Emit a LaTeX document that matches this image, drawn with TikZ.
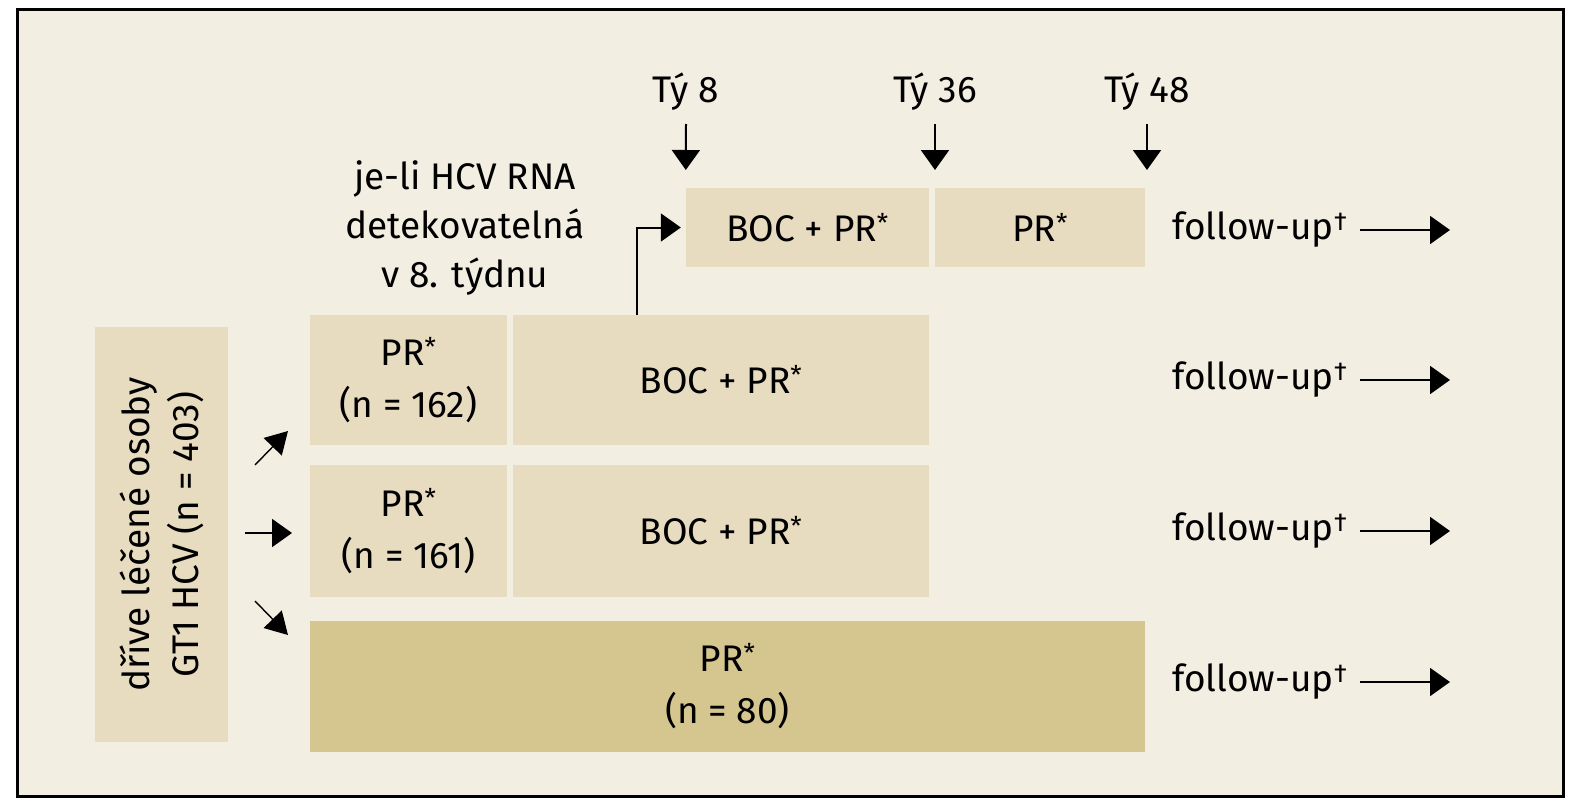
\documentclass[tikz,border=0pt]{standalone}
\usepackage{fontspec}
\setmainfont{Fira Sans}
\usetikzlibrary{arrows.meta,calc}
\definecolor{bgcream}{HTML}{F3EEE2}
\definecolor{boxtan}{HTML}{E8DCC0}
\definecolor{boxdark}{HTML}{D5C690}
\tikzset{
  box/.style={fill=boxtan, inner sep=0pt, align=center, font=\fontsize{37}{52}\selectfont},
  txt/.style={inner sep=0pt, align=center, font=\fontsize{37}{49}\selectfont},
  tip/.style={line width=2pt, -{Triangle[length=20pt, width=28pt]}},
  thintip/.style={line width=1.4pt, -{Triangle[length=22pt, width=25pt]}}
}
\begin{document}
\begin{tikzpicture}[x=1pt, y=-1pt]
  %%%%% FRAME %%%%%
  \useasboundingbox (0,0) rectangle (1580,800);
  \draw[line width=3pt, fill=bgcream] (17,10) rectangle (1563,796);

  %%%%% BOXES %%%%%
  \node[box, minimum width=133pt, minimum height=415pt] (lbox) at (161.5,534.5) {};
  \node[txt, rotate=90] at (lbox.center) {dříve léčené osoby\\GT1 HCV (n = 403)};

  \node[box, minimum width=197pt, minimum height=130pt] (pra) at (408.5,380) {PR\textsuperscript{*}\\(n = 162)};
  \node[box, minimum width=416pt, minimum height=130pt] (boca) at (721,380) {BOC + PR\textsuperscript{*}};

  \node[box, minimum width=197pt, minimum height=132pt] (prb) at (408.5,531) {PR\textsuperscript{*}\\(n = 161)};
  \node[box, minimum width=416pt, minimum height=132pt] (bocb) at (721,531) {BOC + PR\textsuperscript{*}};

  \node[box, fill=boxdark, minimum width=835pt, minimum height=131pt] (prc) at (727.5,686.5) {PR\textsuperscript{*}\\(n = 80)};

  \node[box, minimum width=243pt, minimum height=79pt] (boct) at (807.5,227.5) {BOC + PR\textsuperscript{*}};
  \node[box, minimum width=210pt, minimum height=79pt] (prt) at (1040,227.5) {PR\textsuperscript{*}};

  %%%%% LABELS %%%%%
  \node[txt] (cond) at (465,228) {je-li HCV RNA\\detekovatelná\\v 8. týdnu};
  \node[txt] (t8) at (686,92) {Tý 8};
  \node[txt] (t36) at (935,92) {Tý 36};
  \node[txt] (t48) at (1147,92) {Tý 48};

  \node[txt, anchor=west] (fut) at (1172,230) {follow-up\textsuperscript{†}};
  \node[txt, anchor=west] (fua) at (1172,380) {follow-up\textsuperscript{†}};
  \node[txt, anchor=west] (fub) at (1172,531) {follow-up\textsuperscript{†}};
  \node[txt, anchor=west] (fuc) at (1172,682) {follow-up\textsuperscript{†}};

  %%%%% ARROWS %%%%%
  \draw[tip] (686,124) -- (boct.north west |- 0,170);
  \draw[tip] (935,124) -- (935,170);
  \draw[tip] (1147,124) -- (1147,170);

  \draw[tip] (637,0 |- boca.north) |- ([xshift=-5pt]boct.west);

  \foreach \f in {fut,fua,fub,fuc}
    \draw[tip] ([xshift=12pt]\f.east) -- (1450,0 |- \f.east);

  \coordinate (la) at (255,465);
  \coordinate (lb) at (245,533);
  \coordinate (lc) at (255,601);
  \draw[thintip] (la) -- (288,431);
  \draw[tip] (lb) -- (292,533);
  \draw[thintip] (lc) -- (288,635);
\end{tikzpicture}
\end{document}
